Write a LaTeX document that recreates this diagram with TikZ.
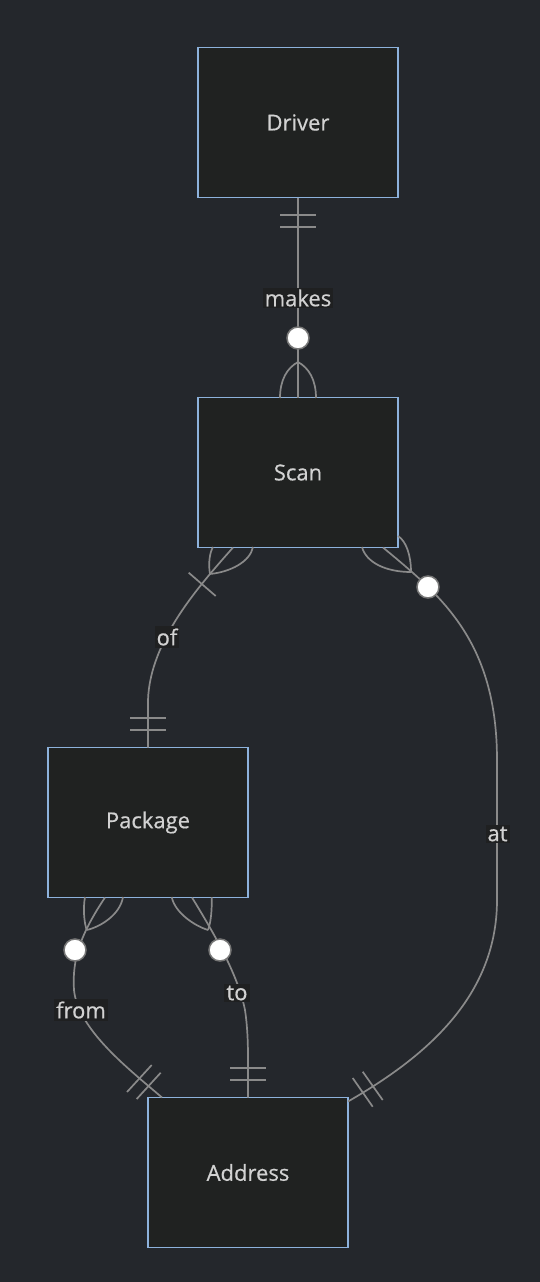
\documentclass[tikz,border=0pt]{standalone}
\usepackage{fontspec}
\setmainfont{Open Sans}[FakeBold=0.5]
\definecolor{bg}{HTML}{24272C}
\definecolor{boxfill}{HTML}{202221}
\definecolor{boxline}{HTML}{8DB2DC}
\definecolor{edge}{HTML}{8A8A8A}
\definecolor{txt}{HTML}{D2D2D2}
\definecolor{lblbg}{HTML}{1F2021}
\definecolor{circ}{HTML}{777777}
\begin{document}
\begin{tikzpicture}[x=1pt,y=-1pt,
  entity/.style={draw=boxline, fill=boxfill, line width=1.8pt, minimum width=200pt, minimum height=150pt, inner sep=0pt, outer sep=0pt, text=txt, font=\fontsize{22}{26}\selectfont},
  rel/.style={draw=edge, line width=1.7pt},
  mk/.style={draw=edge, line width=1.7pt},
  lbl/.style={fill=lblbg, text=txt, inner sep=2pt, font=\fontsize{22}{26}\selectfont},
  zero/.style={circle, draw=circ, fill=white, line width=1.5pt, minimum size=22pt, inner sep=0pt}
]
\fill[bg] (0,0) rectangle (540,1282);
\useasboundingbox (0,0) rectangle (540,1282);

% entities
\node[entity] (driver) at (298,122.5) {Driver};
\node[entity] (scan) at (298,472.5) {Scan};
\node[entity] (pkg) at (148,822.5) {Package};
\node[entity] (addr) at (248,1172.5) {Address};

% attach points
\coordinate (ofS) at ([xshift=-65pt]scan.south);
\coordinate (atS) at ([xshift=85pt]scan.south);
\coordinate (atA) at ([yshift=-4pt]addr.north east);
\coordinate (frP) at ([xshift=-43pt]pkg.south);
\coordinate (frA) at ([xshift=-86pt]addr.north);
\coordinate (toP) at ([xshift=44pt]pkg.south);

% makes
\draw[rel] (driver.south) -- (scan.north);
\draw[mk] (280,215) -- (316,215) (280,227) -- (316,227);
\draw[mk] (298,362) .. controls (287,368) and (280,380) .. (280,398);
\draw[mk] (298,362) .. controls (309,368) and (316,380) .. (316,398);
\node[zero] (c1) at (298,338) {};
\node[lbl] (lmakes) at (298,298) {makes};

% of
\draw[rel] (ofS) .. controls (200,585) and (150,640) .. (148,700) -- (pkg.north);
\draw[mk] (210,574) .. controls (208,563) and (210,552) .. (213,547);
\draw[mk] (210,574) .. controls (230,572) and (250,562) .. (253,547);
\draw[mk] (188.7,572.7) -- (215.7,596);
\draw[mk] (130,718) -- (166,718) (130,730) -- (166,730);
\node[lbl] (lof) at (167,637) {of};

% at
\draw[rel] (atS) .. controls (440,595) and (497,640) .. (497,760) -- (497,900) .. controls (497,1000) and (420,1060) .. (atA);
\draw[mk] (362,547) .. controls (366,562) and (385,572) .. (411,572);
\draw[mk] (398,536) .. controls (406,541) and (411,555) .. (411,572);
\draw[mk] (352.7,1078) -- (372.7,1106.7) (362.7,1071.7) -- (382.7,1100);
\node[zero] (c2) at (428,587) {};
\node[lbl] (lat) at (497.5,834) {at};

% from
\draw[rel] (frP) .. controls (80,935) and (72,960) .. (74,990) .. controls (78,1030) and (130,1070) .. (frA);
\draw[mk] (85,897) .. controls (83,908) and (84,922) .. (86.7,930);
\draw[mk] (123,897) .. controls (120,915) and (100,927) .. (86.7,930);
\draw[mk] (127,1092) -- (151.7,1065) (136.7,1099) -- (160.7,1072.7);
\node[zero] (c3) at (75,950) {};
\node[lbl] (lfrom) at (81,1010) {from};

% to
\draw[rel] (toP) .. controls (215,935) and (238,975) .. (245,1010) .. controls (248,1030) and (248,1050) .. (248,1060) -- (addr.north);
\draw[mk] (171.7,897) .. controls (175,913) and (195,926) .. (208,930);
\draw[mk] (211.7,897) .. controls (212,910) and (211,922) .. (208,930);
\draw[mk] (230,1068) -- (266,1068) (230,1080) -- (266,1080);
\node[zero] (c4) at (220,950) {};
\node[lbl] (lto) at (237,993) {to};
\end{tikzpicture}
\end{document}
